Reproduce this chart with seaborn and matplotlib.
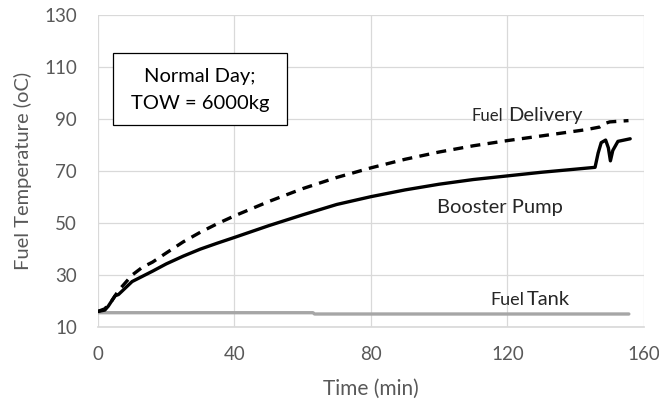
import matplotlib
matplotlib.use("Agg")
import matplotlib.pyplot as plt
from matplotlib.patches import Rectangle
import seaborn as sns
import pandas as pd

# Data
delivery_t = [0, 2, 4, 6, 8, 10, 13, 16, 20, 25, 30, 35, 40, 50, 60, 70, 80, 90, 100, 110, 120, 130, 143, 147, 148.6, 150, 155.5]
delivery_T = [16, 17, 20, 24, 27, 30, 33, 35, 38.5, 42.8, 46.5, 49.8, 52.8, 58.3, 63.3, 67.6, 71.3, 74.6, 77.4, 79.8, 81.8, 83.6, 86, 87, 88.4, 89, 89.5]

booster_t = [0, 2, 3, 4, 5, 6, 8, 10, 13, 16, 20, 25, 30, 35, 40, 50, 60, 70, 80, 90, 100, 110, 120, 130, 140, 145.7, 146.6, 147.5, 148.8, 149.6, 150.2, 150.9, 152.4, 156]
booster_T = [16, 16.5, 18, 20, 22, 22.5, 25, 27.5, 29.5, 31.5, 34.3, 37.3, 40, 42.3, 44.5, 49, 53.2, 57.2, 60.2, 62.8, 65, 66.8, 68.2, 69.6, 70.8, 71.5, 77, 81, 82, 79, 74, 78, 81.5, 82.5]

tank_t = [0, 63, 63.5, 155.6]
tank_T = [15.5, 15.5, 15.0, 15.0]

box_lines = ["Normal Day;", "TOW = 6000kg"]

sns.set_theme(style="white")
plt.rcParams['font.family'] = ['Lato', 'DejaVu Sans']

fig, ax = plt.subplots(figsize=(6.59, 4.07), dpi=100)
fig.subplots_adjust(left=0.1487, right=0.977, top=0.962, bottom=0.1966)

df_d = pd.DataFrame({"t": delivery_t, "T": delivery_T})
df_b = pd.DataFrame({"t": booster_t, "T": booster_T})
df_k = pd.DataFrame({"t": tank_t, "T": tank_T})

sns.lineplot(data=df_k, x="t", y="T", ax=ax, color="#a6a6a6", lw=2.4, sort=False)
sns.lineplot(data=df_b, x="t", y="T", ax=ax, color="black", lw=2.4, sort=False)
sns.lineplot(data=df_d, x="t", y="T", ax=ax, color="black", lw=2.4, sort=False,
             linestyle=(0, (3, 2.2)))

ax.set_xlim(0, 160)
ax.set_ylim(10, 130)
ax.set_xticks([0, 40, 80, 120, 160])
ax.set_yticks([10, 30, 50, 70, 90, 110, 130])
ax.grid(True, color="#d9d9d9", lw=0.9)
ax.set_axisbelow(True)
for s in ["top", "right", "left"]:
    ax.spines[s].set_visible(False)
ax.spines["bottom"].set_color("#d9d9d9")
ax.tick_params(axis="both", colors="#595959", labelsize=13.5, length=0)
ax.tick_params(axis="y", pad=15)
ax.tick_params(axis="x", pad=14)
ax.set_xlabel("Time (min)", fontsize=15, color="#595959", labelpad=11)
ax.set_ylabel("Fuel Temperature (oC)", fontsize=14.5, color="#595959", labelpad=9)

ax.add_patch(Rectangle((4.5, 87.7), 50.9, 28.0, fc="white", ec="black", lw=0.9, zorder=5))
ax.text(29.9, 106.5, box_lines[0], ha="center", va="center", fontsize=14.5, color="black", zorder=6)
ax.text(29.9, 96.2, box_lines[1], ha="center", va="center", fontsize=14.5, color="black", zorder=6)

ax.text(120.2, 89.2, "Delivery", fontsize=14.5, ha="left", va="baseline")
ax.text(118.8, 89.2, "Fuel", fontsize=12, ha="right", va="baseline")
ax.text(99.5, 53.8, "Booster Pump", fontsize=14.5, ha="left", va="baseline")
ax.text(125.8, 18.6, "Tank", fontsize=14.5, ha="left", va="baseline")
ax.text(125.0, 18.6, "Fuel", fontsize=13, ha="right", va="baseline")

fig.savefig("out.png", dpi=100)
